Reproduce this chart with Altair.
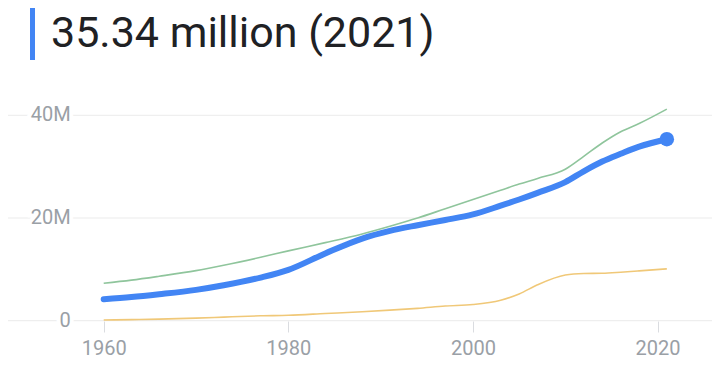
import altair as alt
import pandas as pd

TITLE = "35.34 million (2021)"

YEARS = [1960, 1963, 1966, 1970, 1973, 1977, 1980, 1984, 1988, 1991, 1994, 1997,
         2000, 2003, 2005, 2007, 2010, 2012, 2014, 2016, 2018, 2021]
MAIN = [4.19, 4.6, 5.15, 6.0, 6.9, 8.4, 9.9, 13.1, 16.0, 17.5, 18.6, 19.6,
        20.7, 22.4, 23.6, 24.9, 27.0, 29.1, 31.0, 32.5, 33.9, 35.34]
GREEN = [7.3, 7.9, 8.65, 9.75, 10.8, 12.35, 13.6, 15.2, 16.9, 18.4, 20.0, 21.8,
         23.6, 25.4, 26.6, 27.7, 29.5, 32.0, 34.6, 36.8, 38.4, 41.2]
YELLOW = [0.13, 0.2, 0.3, 0.5, 0.7, 0.95, 1.05, 1.4, 1.75, 2.05, 2.4, 2.85,
          3.15, 4.0, 5.2, 7.0, 8.9, 9.2, 9.25, 9.45, 9.7, 10.1]

Y_TICKS = [0, 20, 40]
Y_LABELS = ["0", "20M", "40M"]
X_TICKS = [1960, 1980, 2000, 2020]

main_df = pd.DataFrame({"year": YEARS, "value": MAIN})
green_df = pd.DataFrame({"year": YEARS, "value": GREEN})
yellow_df = pd.DataFrame({"year": YEARS, "value": YELLOW})
last_df = pd.DataFrame({"year": [YEARS[-1]], "value": [MAIN[-1]]})
ticks_df = pd.DataFrame({"v": Y_TICKS, "label": Y_LABELS})

xs = alt.Scale(domain=[1960, 2020], range=[95.7, 649.6], nice=False, zero=False)
ys = alt.Scale(domain=[0, 40], range=[312.7, 107.3], nice=False)

x_axis = alt.Axis(values=X_TICKS, format="d", labelFont="Roboto", labelFontSize=20,
                  labelColor="#9aa0a6", tickSize=11, tickColor="#dadce0", domain=False,
                  grid=False, title=None, labelPadding=6, labelFlush=False,
                  labelOverlap=False)

X = alt.X("year:Q", scale=xs, axis=x_axis)
Y = alt.Y("value:Q", scale=ys, axis=None)

grid = alt.Chart(ticks_df).mark_rule(color="#ebebeb", strokeWidth=1).encode(
    y=alt.Y("v:Q", scale=ys, axis=None), x=alt.value(0), x2=alt.value(704))

halo = alt.Chart(ticks_df).mark_text(
    align="right", baseline="middle", font="Roboto", fontSize=20,
    color="white", stroke="white", strokeWidth=8).encode(
    y=alt.Y("v:Q", scale=ys, axis=None), x=alt.value(62.7), text="label:N")

ylabels = alt.Chart(ticks_df).mark_text(
    align="right", baseline="middle", font="Roboto", fontSize=20,
    color="#9aa0a6").encode(
    y=alt.Y("v:Q", scale=ys, axis=None), x=alt.value(62.7), text="label:N")

green = alt.Chart(green_df).mark_line(
    color="#8fc59c", strokeWidth=1.6, interpolate="monotone").encode(x=X, y=Y)
yellow = alt.Chart(yellow_df).mark_line(
    color="#f0c878", strokeWidth=1.6, interpolate="monotone").encode(x=X, y=Y)
main = alt.Chart(main_df).mark_line(
    color="#4285f4", strokeWidth=6, strokeCap="round",
    interpolate="monotone").encode(x=X, y=Y)
point = alt.Chart(last_df).mark_point(
    filled=True, color="#4285f4", size=210, opacity=1).encode(x=X, y=Y)

bar = alt.Chart(ticks_df).mark_rect(color="#4285f4").encode(
    x=alt.value(22), x2=alt.value(27), y=alt.value(0), y2=alt.value(52))

title = alt.Chart(ticks_df.head(1)).mark_text(
    text=TITLE, align="left", baseline="alphabetic", font="Roboto",
    fontSize=43, color="#202124").encode(x=alt.value(43), y=alt.value(38.7))

chart = alt.layer(grid, halo, ylabels, green, yellow, main, point, bar, title).properties(
    width=704, height=313,
    autosize=alt.AutoSizeParams(type="none"),
    padding={"left": 0, "top": 0, "right": 0, "bottom": 39},
).configure_view(stroke=None)

chart.save("out.html", embed_options={"renderer": "svg", "actions": False})
